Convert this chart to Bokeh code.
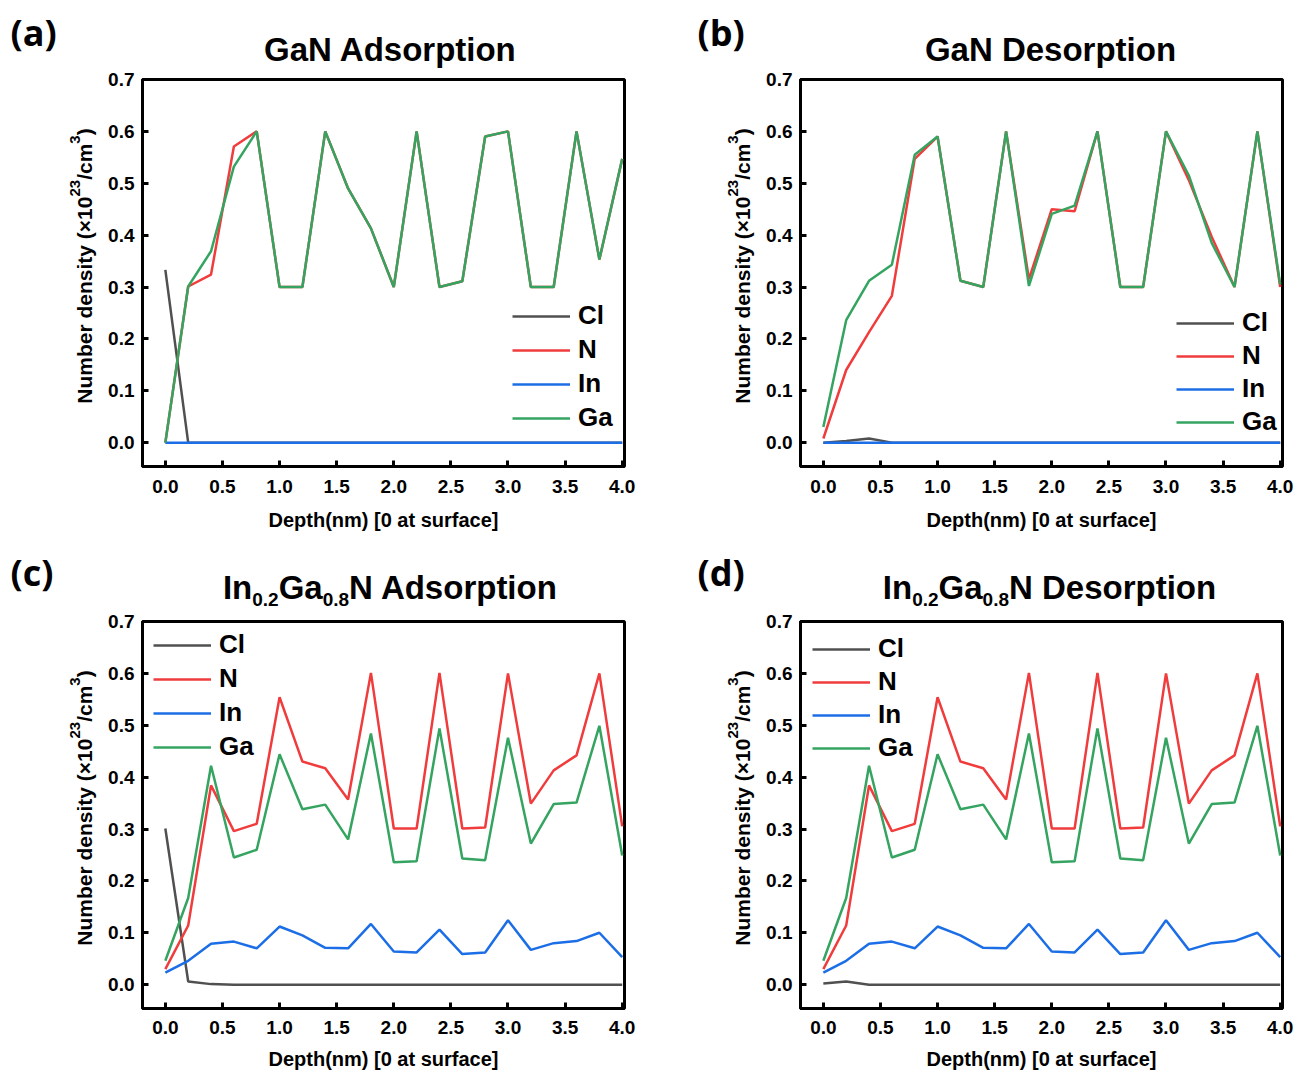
import math
from bokeh.plotting import figure
from bokeh.models import Legend, LegendItem, FixedTicker, NumeralTickFormatter, Range1d
from bokeh.core.properties import value
from bokeh.layouts import column, row
from bokeh.embed import file_html
from bokeh.resources import INLINE

# ---------------- data ----------------
depth = [0.0, 0.2, 0.4, 0.6, 0.8, 1.0, 1.2, 1.4, 1.6, 1.8, 2.0,
         2.2, 2.4, 2.6, 2.8, 3.0, 3.2, 3.4, 3.6, 3.8, 4.0]

a_cl = [0.333, 0.0, 0.0, 0.0, 0.0, 0.0, 0.0, 0.0, 0.0, 0.0, 0.0,
        0.0, 0.0, 0.0, 0.0, 0.0, 0.0, 0.0, 0.0, 0.0, 0.0]
a_n = [0.0, 0.301, 0.324, 0.571, 0.600, 0.300, 0.300, 0.600, 0.490, 0.413, 0.300,
       0.600, 0.300, 0.311, 0.590, 0.600, 0.300, 0.300, 0.600, 0.353, 0.547]
a_in = [0.0, 0.0, 0.0, 0.0, 0.0, 0.0, 0.0, 0.0, 0.0, 0.0, 0.0,
        0.0, 0.0, 0.0, 0.0, 0.0, 0.0, 0.0, 0.0, 0.0, 0.0]
a_ga = [0.0, 0.301, 0.369, 0.532, 0.600, 0.300, 0.300, 0.600, 0.490, 0.413, 0.300,
        0.600, 0.300, 0.311, 0.590, 0.600, 0.300, 0.300, 0.600, 0.353, 0.547]

b_cl = [0.0, 0.003, 0.008, 0.0, 0.0, 0.0, 0.0, 0.0, 0.0, 0.0, 0.0,
        0.0, 0.0, 0.0, 0.0, 0.0, 0.0, 0.0, 0.0, 0.0, 0.0]
b_n = [0.008, 0.140, 0.213, 0.283, 0.547, 0.590, 0.312, 0.300, 0.600, 0.315, 0.450,
       0.446, 0.600, 0.300, 0.300, 0.600, 0.506, 0.397, 0.300, 0.600, 0.300]
b_in = [0.0, 0.0, 0.0, 0.0, 0.0, 0.0, 0.0, 0.0, 0.0, 0.0, 0.0,
        0.0, 0.0, 0.0, 0.0, 0.0, 0.0, 0.0, 0.0, 0.0, 0.0]
b_ga = [0.030, 0.236, 0.312, 0.343, 0.555, 0.590, 0.312, 0.300, 0.600, 0.302, 0.441,
        0.457, 0.600, 0.300, 0.300, 0.600, 0.515, 0.385, 0.300, 0.600, 0.305]

c_cl = [0.301, 0.006, 0.001, 0.0, 0.0, 0.0, 0.0, 0.0, 0.0, 0.0, 0.0,
        0.0, 0.0, 0.0, 0.0, 0.0, 0.0, 0.0, 0.0, 0.0, 0.0]
c_n = [0.030, 0.114, 0.384, 0.296, 0.310, 0.554, 0.430, 0.417, 0.357, 0.601, 0.301,
       0.301, 0.601, 0.301, 0.303, 0.600, 0.349, 0.413, 0.442, 0.600, 0.305]
c_in = [0.023, 0.046, 0.079, 0.083, 0.070, 0.112, 0.095, 0.071, 0.070, 0.117, 0.064,
        0.062, 0.106, 0.059, 0.062, 0.124, 0.067, 0.080, 0.084, 0.100, 0.053]
c_ga = [0.046, 0.167, 0.422, 0.245, 0.260, 0.444, 0.338, 0.347, 0.280, 0.484, 0.236,
        0.238, 0.494, 0.243, 0.240, 0.476, 0.272, 0.348, 0.351, 0.499, 0.249]

d_cl = [0.002, 0.006, 0.0, 0.0, 0.0, 0.0, 0.0, 0.0, 0.0, 0.0, 0.0,
        0.0, 0.0, 0.0, 0.0, 0.0, 0.0, 0.0, 0.0, 0.0, 0.0]
d_n = [0.030, 0.114, 0.384, 0.296, 0.310, 0.554, 0.430, 0.417, 0.357, 0.601, 0.301,
       0.301, 0.601, 0.301, 0.303, 0.600, 0.349, 0.413, 0.442, 0.600, 0.305]
d_in = [0.023, 0.046, 0.079, 0.083, 0.070, 0.112, 0.095, 0.071, 0.070, 0.117, 0.064,
        0.062, 0.106, 0.059, 0.062, 0.124, 0.067, 0.080, 0.084, 0.100, 0.053]
d_ga = [0.046, 0.167, 0.422, 0.245, 0.260, 0.444, 0.338, 0.347, 0.280, 0.484, 0.236,
        0.238, 0.494, 0.243, 0.240, 0.476, 0.272, 0.348, 0.351, 0.499, 0.249]

species = ["Cl", "N", "In", "Ga"]
colors = ["#505050", "#f03c3c", "#1c6ee6", "#34a460"]
x_ticks = [0.0, 0.5, 1.0, 1.5, 2.0, 2.5, 3.0, 3.5, 4.0]
y_ticks = [0.0, 0.1, 0.2, 0.3, 0.4, 0.5, 0.6, 0.7]
x_label = "Depth(nm) [0 at surface]"
# y label pieces: (text, is_superscript)
y_label_parts = [("Number density (×10", False), ("23", True), ("/cm", False),
                 ("3", True), (")", False)]
titles = {
    "a": [("GaN Adsorption", False)],
    "b": [("GaN Desorption", False)],
    "c": [("In", False), ("0.2", True), ("Ga", False), ("0.8", True), ("N Adsorption", False)],
    "d": [("In", False), ("0.2", True), ("Ga", False), ("0.8", True), ("N Desorption", False)],
}
letters = {"a": "(a)", "b": "(b)", "c": "(c)", "d": "(d)"}

FONT = "Liberation Sans"
X0, X1 = -0.2, 4.02
Y0, Y1 = -0.046, 0.7
FW, FH = 482, 387
MID = 0.35  # baseline -> em-box middle, fraction of font size

# Arial/Liberation Sans Bold advance widths (per 1000 em) for text layout
AW = {"I": 278, "n": 611, "G": 778, "a": 556, "N": 722, " ": 278, "A": 722,
      "d": 611, "s": 556, "o": 611, "r": 389, "p": 611, "t": 333, "i": 278,
      "D": 722, "e": 556, "0": 556, ".": 278, "2": 556, "8": 556, "u": 611,
      "m": 889, "b": 611, "y": 556, "(": 333, ")": 333, "×": 584, "1": 556,
      "/": 278, "c": 556, "3": 556}


def twidth(s, size):
    return sum(AW.get(ch, 556) for ch in s) * size / 1000.0


def blank(w, h):
    f = figure(frame_width=w, frame_height=h, output_backend="svg", toolbar_location=None,
               x_range=Range1d(0, w), y_range=Range1d(0, h),
               x_axis_location=None, y_axis_location=None,
               min_border=0, min_border_left=0, min_border_right=0,
               min_border_top=0, min_border_bottom=0)
    f.outline_line_color = None
    f.grid.grid_line_color = None
    f.background_fill_color = "white"
    f.border_fill_color = "white"
    return f


def header(key, h, title_cx, title_base, letter_x, letter_base):
    f = blank(650, h)
    LS = 36
    f.text(x=[letter_x], y=[h - (letter_base - MID * LS)], text=[letters[key]],
           text_font=value("Open Sans"), text_font_style="bold",
           text_font_size=value(f"{LS}px"), text_color="black",
           text_baseline="middle", text_align="left")
    MAIN, SUB = 33, 19
    parts = titles[key]
    total = sum(twidth(t, SUB if s else MAIN) for t, s in parts)
    cx = title_cx - total / 2.0
    for t, s in parts:
        size = SUB if s else MAIN
        base = title_base + (7 if s else 0)
        w = twidth(t, size)
        f.text(x=[cx + w / 2.0], y=[h - (base - MID * size)], text=[t],
               text_font=value(FONT), text_font_style="bold",
               text_font_size=value(f"{size}px"), text_color="black",
               text_baseline="middle", text_align="center")
        cx += w
    return f


def ystrip(w_strip, h, center_y, base_x):
    f = blank(w_strip, h)
    MAIN, SUP = 21, 15
    total = sum(twidth(t, SUP if s else MAIN) for t, s in y_label_parts)
    pos = center_y + total / 2.0  # bottom end (pixels from top)
    for t, s in y_label_parts:
        size = SUP if s else MAIN
        w = twidth(t, size)
        bx = base_x - (11 if s else 0) - MID * size
        f.text(x=[bx], y=[h - (pos - w / 2.0)], text=[t], angle=math.pi / 2,
               text_font=value(FONT), text_font_style="bold",
               text_font_size=value(f"{size}px"), text_color="black",
               text_baseline="middle", text_align="center")
        pos -= w
    return f


def make_panel(series, w_strip, fig_h, bl, bt, legend_loc, spacing, tick_so, lab_so):
    fig_w = 650 - w_strip
    br = fig_w - bl - FW
    bb = fig_h - bt - FH
    p = figure(width=fig_w, height=fig_h, output_backend="svg", toolbar_location=None,
               x_range=Range1d(X0, X1), y_range=Range1d(Y0, Y1),
               min_border_left=bl, min_border_right=br,
               min_border_top=bt, min_border_bottom=bb)
    p.xgrid.visible = False
    p.ygrid.visible = False
    p.outline_line_color = "black"
    p.outline_line_width = 3
    p.outline_line_alpha = 1.0
    p.background_fill_color = "white"
    p.border_fill_color = "white"

    for ax in (p.xaxis[0], p.yaxis[0]):
        ax.axis_line_width = 3
        ax.axis_line_color = "black"
        ax.major_tick_in = 6
        ax.major_tick_out = 0
        ax.major_tick_line_width = 3
        ax.minor_tick_line_color = None
        ax.major_label_text_font = FONT
        ax.major_label_text_font_style = "bold"
        ax.major_label_text_font_size = "19px"
        ax.major_label_text_color = "black"
        ax.axis_label_text_font = FONT
        ax.axis_label_text_font_style = "bold"
        ax.axis_label_text_font_size = "20px"
        ax.axis_label_text_color = "black"
        ax.axis_label_text_line_height = 1.0
        ax.major_label_text_line_height = 1.0
    p.xaxis.ticker = FixedTicker(ticks=x_ticks)
    p.yaxis.ticker = FixedTicker(ticks=y_ticks)
    p.xaxis.formatter = NumeralTickFormatter(format="0.0")
    p.yaxis.formatter = NumeralTickFormatter(format="0.0")
    p.xaxis.axis_label = x_label
    p.xaxis.major_label_standoff = tick_so
    p.xaxis.axis_label_standoff = lab_so
    p.yaxis.major_label_standoff = 8

    items = []
    for name, col, vals in zip(species, colors, series):
        r = p.line(depth, vals, line_color=col, line_width=2.5)
        items.append(LegendItem(label=name, renderers=[r]))
    leg = Legend(items=items, location=legend_loc,
                 background_fill_alpha=0.0, border_line_alpha=0.0,
                 padding=0, margin=0, spacing=spacing,
                 glyph_width=58, glyph_height=20, label_standoff=8,
                 label_text_font=FONT, label_text_font_style="bold",
                 label_text_font_size="26px", label_text_color="black")
    p.add_layout(leg)
    return p


TOP_H1, TOP_H2 = 69, 71
SL, SR = 100, 106  # y-label strip widths (left / right column)
pa = make_panel([a_cl, a_n, a_in, a_ga], SL, 540 - TOP_H1, 142 - SL, 79 - TOP_H1, (370, 33), 3, 13, 13)
pb = make_panel([b_cl, b_n, b_in, b_ga], SR, 540 - TOP_H1, 150 - SR, 79 - TOP_H1, (376, 29), 2, 13, 13)
pc = make_panel([c_cl, c_n, c_in, c_ga], SL, 533 - TOP_H2, 142 - SL, 81 - TOP_H2, (11, 246), 3, 12, 11)
pd = make_panel([d_cl, d_n, d_in, d_ga], SR, 533 - TOP_H2, 150 - SR, 81 - TOP_H2, (12, 245), 2, 12, 11)

ha = header("a", TOP_H1, 390, 61, 10, 45)
hb = header("b", TOP_H1, 1050 - 650, 61, 697 - 650, 45)
hc = header("c", TOP_H2, 390, 599 - 540, 10, 585 - 540)
hd = header("d", TOP_H2, 1049 - 650, 599 - 540, 697 - 650, 585 - 540)

# y-label strips: centre 17 px above frame centre, baseline 51 px left of frame
sa = ystrip(SL, 540 - TOP_H1, 255.5 - TOP_H1, 142 - 51)
sb = ystrip(SR, 540 - TOP_H1, 255.5 - TOP_H1, 800 - 650 - 51)
sc = ystrip(SL, 533 - TOP_H2, 797.5 - 540 - TOP_H2, 142 - 51)
sd = ystrip(SR, 533 - TOP_H2, 797.5 - 540 - TOP_H2, 800 - 650 - 51)

layout = column(
    row(column(ha, row(sa, pa)), column(hb, row(sb, pb))),
    row(column(hc, row(sc, pc)), column(hd, row(sd, pd))),
)
open("out.html", "w").write(file_html(layout, INLINE))
